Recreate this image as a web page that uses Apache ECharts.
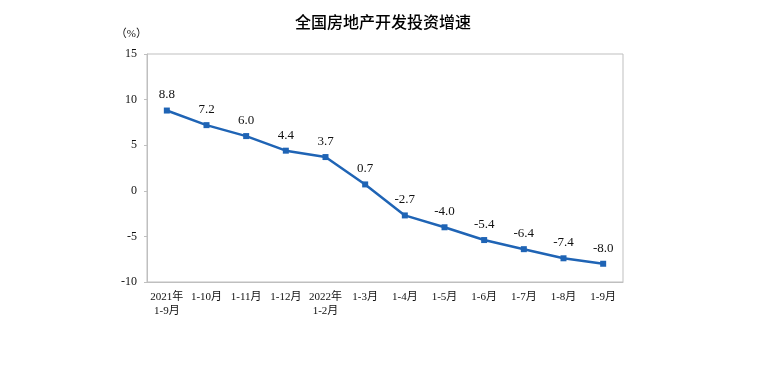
<!DOCTYPE html>
<html><head><meta charset="utf-8">
<script src="https://cdn.jsdelivr.net/npm/echarts@6/dist/echarts.min.js"></script>
<style>html,body{margin:0;padding:0;background:#fff}#c{width:766px;height:370px}</style>
</head><body><div id="c"></div>
<script>
var categories = ['2021年\n1-9月','1-10月','1-11月','1-12月','2022年\n1-2月','1-3月','1-4月','1-5月','1-6月','1-7月','1-8月','1-9月'];
var values = [8.8, 7.2, 6.0, 4.4, 3.7, 0.7, -2.7, -4.0, -5.4, -6.4, -7.4, -8.0];
var yTicks = [-10, -5, 0, 5, 10, 15];
var font = "'Liberation Serif','Times New Roman','Noto Sans CJK SC',serif";
var chart = echarts.init(document.getElementById('c'));
chart.setOption({
  animation: false,
  title: {text: '全国房地产开发投资增速', left: 'center', top: 9,
    textStyle: {fontFamily: "'Noto Sans CJK SC',sans-serif", fontSize: 16, fontWeight: 500, color: '#000'}},
  grid: {left: 147, right: 143, top: 54, bottom: 88, show: true, borderColor: '#bfbfbf', borderWidth: 1},
  xAxis: {type: 'category', data: categories, boundaryGap: true,
    axisLine: {onZero: false, lineStyle: {color: '#bfbfbf'}},
    axisTick: {inside: true, length: 4, lineStyle: {color: '#bfbfbf'}},
    axisLabel: {interval: 0, color: '#111', fontFamily: font, fontSize: 11, lineHeight: 14, margin: 8}},
  yAxis: {type: 'value', min: yTicks[0], max: yTicks[yTicks.length-1], interval: 5,
    name: '（%）', nameLocation: 'end', nameGap: 14,
    nameTextStyle: {color: '#111', fontFamily: font, fontSize: 11, align: 'right', padding: [0, 0, 0, 0]},
    axisLine: {show: true, lineStyle: {color: '#bfbfbf'}},
    axisTick: {show: true, length: 3, lineStyle: {color: '#bfbfbf'}},
    splitLine: {show: false},
    axisLabel: {color: '#111', fontFamily: font, fontSize: 12, margin: 10}},
  series: [{type: 'line', data: values, symbol: 'rect', symbolSize: 6,
    lineStyle: {color: '#1f64b5', width: 2.5}, itemStyle: {color: '#1f64b5'},
    label: {show: true, position: 'top', distance: 6, color: '#111', fontFamily: font, fontSize: 13,
      formatter: function(p){return p.value.toFixed(1);}}}]
});
</script></body></html>
